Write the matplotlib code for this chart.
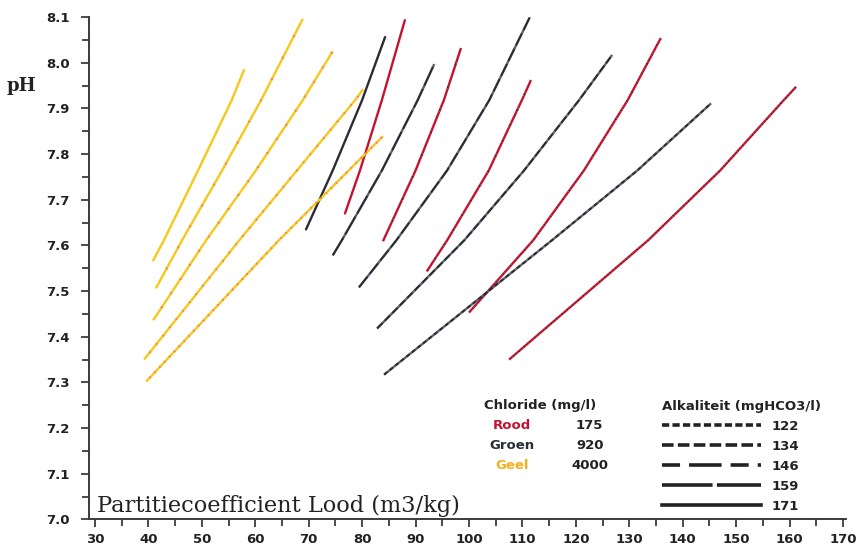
import matplotlib.pyplot as plt
from matplotlib.lines import Line2D
from matplotlib.ticker import MultipleLocator

# alkaliteit classes (mgHCO3/l); curve order inside each group follows this list
alkaliteit = [171, 159, 146, 134, 122]
chloride_names = ["Rood", "Groen", "Geel"]
chloride_values = ["175", "920", "4000"]

# Rood (175 mg/l chloride)
rood_x = [
    [76.8, 79.6, 83.7, 88.0],
    [83.9, 90.0, 95.3, 98.5],
    [92.1, 95.9, 103.7, 109.9, 111.6],
    [100.0, 112.0, 121.5, 129.7, 135.9],
    [107.5, 133.5, 147.0, 158.9, 161.2],
]
rood_y = [
    [7.670, 7.764, 7.918, 8.093],
    [7.609, 7.764, 7.918, 8.032],
    [7.543, 7.611, 7.764, 7.918, 7.962],
    [7.453, 7.611, 7.764, 7.918, 8.054],
    [7.350, 7.611, 7.764, 7.918, 7.947],
]

# Groen (920 mg/l chloride)
groen_x = [
    [69.5, 74.5, 80.0, 84.3],
    [74.5, 76.2, 83.7, 90.4, 93.5],
    [79.4, 86.4, 95.9, 103.8, 111.4],
    [82.8, 99.1, 110.3, 120.6, 126.8],
    [84.1, 115.5, 131.5, 145.3],
]
groen_y = [
    [7.635, 7.764, 7.918, 8.056],
    [7.578, 7.611, 7.764, 7.918, 7.997],
    [7.508, 7.611, 7.764, 7.918, 8.100],
    [7.418, 7.611, 7.764, 7.918, 8.017],
    [7.317, 7.611, 7.764, 7.911],
]

# Geel (4000 mg/l chloride)
geel_x = [
    [40.9, 42.9, 49.3, 55.6, 57.9],
    [41.4, 46.3, 53.8, 61.1, 68.9],
    [40.9, 50.8, 60.1, 68.9, 74.5],
    [39.2, 57.0, 67.8, 78.7, 80.2],
    [39.6, 64.4, 77.5, 83.9],
]
geel_y = [
    [7.567, 7.611, 7.764, 7.918, 7.984],
    [7.506, 7.611, 7.764, 7.918, 8.096],
    [7.436, 7.611, 7.764, 7.918, 8.025],
    [7.350, 7.611, 7.764, 7.918, 7.942],
    [7.302, 7.611, 7.764, 7.839],
]

# dash patterns for 171, 159, 146, 134, 122
curve_dashes = ["-", (0, (9, 1.2)), (0, (6, 1.2)), (0, (3.5, 1)), (0, (2, 1))]
legend_dashes = ["-", (0, (14, 1.2)), (0, (5, 2.5, 9, 2.5)), (0, (3.2, 1.2)), (0, (2, 0.9))]

groups = [
    (rood_x, rood_y, "#c41230", "#7a1a1a"),
    (groen_x, groen_y, "#2a2c36", "#5c5f68"),
    (geel_x, geel_y, "#f7c81a", "#f0902a"),
]
text_colors = ["#c41230", "#2a2c36", "#f5b01c"]

fig = plt.figure(figsize=(8.66, 5.52), dpi=100)
ax = fig.add_axes([0.1028, 0.0589, 0.8738, 0.9103])

for xs, ys, col, gap in groups:
    for i in range(len(alkaliteit)):
        ls = curve_dashes[i]
        if ls == "-":
            ax.plot(xs[i], ys[i], color=col, lw=1.7, solid_capstyle="round")
        else:
            ax.plot(xs[i], ys[i], color=col, lw=1.7, linestyle=ls, gapcolor=gap)

ax.set_xlim(28.9, 170.5)
ax.set_ylim(7.0, 8.1)
ax.xaxis.set_major_locator(MultipleLocator(10))
ax.xaxis.set_minor_locator(MultipleLocator(5))
ax.yaxis.set_major_locator(MultipleLocator(0.1))
ax.yaxis.set_minor_locator(MultipleLocator(0.05))
ax.yaxis.set_major_formatter(plt.FuncFormatter(lambda v, p: f"{v:.1f}"))

for s in ["top", "right"]:
    ax.spines[s].set_visible(False)
for s in ["left", "bottom"]:
    ax.spines[s].set_color("#3a3a44")
    ax.spines[s].set_linewidth(1.4)

ax.tick_params(which="both", direction="out", color="#3a3a44", width=1.3)
ax.tick_params(which="major", length=6, labelsize=9.5, labelcolor="#222222")
ax.tick_params(which="minor", length=5)
for lab in ax.get_xticklabels() + ax.get_yticklabels():
    lab.set_fontweight("bold")
ax.tick_params(axis="y", pad=8)

ax.text(0.011, 0.004, "Partitiecoefficient Lood (m3/kg)", transform=ax.transAxes,
        family="DejaVu Serif", fontsize=16.2, color="#222222", ha="left", va="bottom")
fig.text(0.008, 0.845, "pH", family="DejaVu Serif", fontsize=13, fontweight="bold",
         color="#222222", ha="left", va="center")

# chloride table
fig.text(0.559, 0.266, "Chloride (mg/l)", fontsize=9.5, fontweight="bold",
         color="#222222", ha="left", va="center")
for j in range(len(chloride_names)):
    yy = 0.230 - j * 0.0365
    fig.text(0.591, yy, chloride_names[j], fontsize=9.5, fontweight="bold",
             color=text_colors[j], ha="center", va="center")
    fig.text(0.681, yy, chloride_values[j], fontsize=9.5, fontweight="bold",
             color="#222222", ha="center", va="center")

# alkaliteit legend, 122 (finest dash) on top as in the source
handles = [Line2D([], [], color="#222222", lw=2.6, linestyle=legend_dashes[i])
           for i in range(len(alkaliteit))]
order = list(range(len(alkaliteit)))[::-1]
leg = ax.legend([handles[k] for k in order], [str(alkaliteit[k]) for k in order],
                title="Alkaliteit (mgHCO3/l)", loc="upper left",
                bbox_to_anchor=(0.757, 0.288), bbox_transform=fig.transFigure,
                frameon=False, handlelength=7.5, handletextpad=0.8,
                labelspacing=0.53, borderpad=0, fontsize=9.5,
                title_fontsize=9.5, alignment="left")
leg.get_title().set_fontweight("bold")
leg.get_title().set_color("#222222")
for t in leg.get_texts():
    t.set_fontweight("bold")
    t.set_color("#222222")

fig.savefig("out.png", dpi=100, facecolor="white")
